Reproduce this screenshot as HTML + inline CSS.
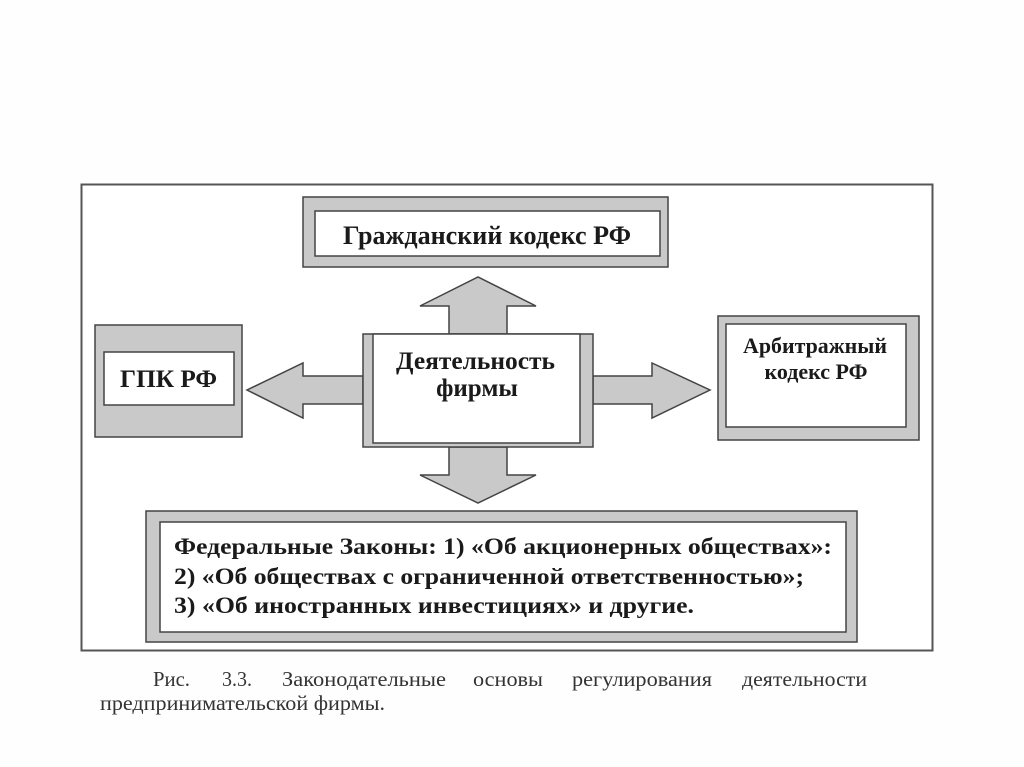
<!DOCTYPE html>
<html><head><meta charset="utf-8"><style>
html,body{margin:0;padding:0;background:#fff;}
svg{display:block;}
text{font-family:"Liberation Serif",serif;fill:#1a1a1a;}
.b{font-weight:bold;}
.c{fill:#333;}
</style></head><body>
<svg width="1024" height="767" viewBox="0 0 1024 767" xmlns="http://www.w3.org/2000/svg">
<rect x="0" y="0" width="1024" height="767" fill="#fefefe"/>
<rect x="81.5" y="184.5" width="851" height="466" fill="#fff" stroke="#555" stroke-width="2"/>
<g stroke="#444" stroke-width="1.5" fill="#c9c9c9">
<rect x="303" y="197" width="365" height="70"/>
<rect x="315" y="211" width="345" height="45" fill="#fff"/>
<rect x="95" y="325" width="147" height="112"/>
<rect x="104" y="352" width="130" height="53" fill="#fff"/>
<rect x="718" y="316" width="201" height="124"/>
<rect x="726" y="324" width="180" height="103" fill="#fff"/>
<rect x="146" y="511" width="711" height="131"/>
<rect x="160" y="522" width="686" height="110" fill="#fff"/>
<polygon points="449,334 449,306 420,306 478,277 536,306 507,306 507,334"/>
<polygon points="449,447 449,475 420,475 478,503 536,475 507,475 507,447"/>
<polygon points="363,376 303,376 303,363 247,390 303,418 303,404 363,404"/>
<polygon points="593,376 652,376 652,363 710,390 652,418 652,404 593,404"/>
<rect x="363" y="334" width="230" height="113"/>
<rect x="373" y="334" width="207" height="109" fill="#fff"/>
</g>
<text class="b" x="343" y="244" font-size="26" textLength="288" lengthAdjust="spacingAndGlyphs">Гражданский кодекс РФ</text>
<text class="b" x="396" y="369" font-size="25" textLength="159" lengthAdjust="spacingAndGlyphs">Деятельность</text>
<text class="b" x="477" y="396" font-size="25" text-anchor="middle">фирмы</text>
<text class="b" x="120" y="387" font-size="25" textLength="97" lengthAdjust="spacingAndGlyphs">ГПК РФ</text>
<text class="b" x="743" y="353" font-size="22" textLength="144" lengthAdjust="spacingAndGlyphs">Арбитражный</text>
<text class="b" x="816" y="379" font-size="22" text-anchor="middle">кодекс РФ</text>
<text class="b" x="174" y="554" font-size="23" textLength="658" lengthAdjust="spacingAndGlyphs">Федеральные Законы: 1) «Об акционерных обществах»:</text>
<text class="b" x="174" y="584" font-size="23" textLength="630" lengthAdjust="spacingAndGlyphs">2) «Об обществах с ограниченной ответственностью»;</text>
<text class="b" x="174" y="613" font-size="23" textLength="520" lengthAdjust="spacingAndGlyphs">3) «Об иностранных инвестициях» и другие.</text>
<g font-size="21">
<text class="c" x="153" y="686" textLength="37" lengthAdjust="spacingAndGlyphs">Рис.</text>
<text class="c" x="222" y="686" textLength="30" lengthAdjust="spacingAndGlyphs">3.3.</text>
<text class="c" x="282" y="686" textLength="164" lengthAdjust="spacingAndGlyphs">Законодательные</text>
<text class="c" x="473" y="686" textLength="70" lengthAdjust="spacingAndGlyphs">основы</text>
<text class="c" x="572" y="686" textLength="140" lengthAdjust="spacingAndGlyphs">регулирования</text>
<text class="c" x="742" y="686" textLength="125" lengthAdjust="spacingAndGlyphs">деятельности</text>
<text class="c" x="100" y="710" textLength="285" lengthAdjust="spacingAndGlyphs">предпринимательской фирмы.</text>
</g>
</svg>
</body></html>
